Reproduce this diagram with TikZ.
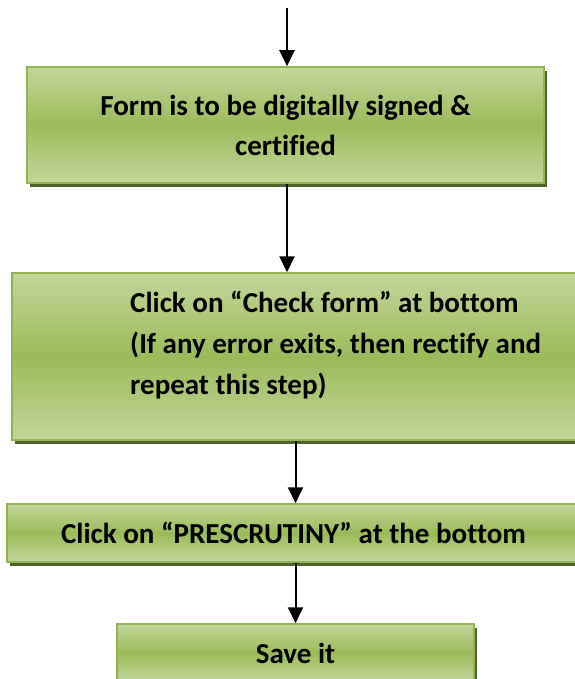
\documentclass[tikz,border=0pt]{standalone}
\usepackage{fontspec}
\setmainfont[Ligatures=CommonOff]{Carlito}
\usetikzlibrary{arrows.meta,shadows}
\definecolor{lightgreen}{HTML}{C3D69B}
\definecolor{midgreen}{HTML}{9BBB59}
\definecolor{edgegreen}{HTML}{93B356}
\definecolor{shadowgreen}{HTML}{4F6228}
\tikzset{
  stepbox/.style={rectangle, draw=edgegreen, line width=1.5pt,
    top color=lightgreen, bottom color=lightgreen, middle color=midgreen,
    drop shadow={shadow xshift=3pt, shadow yshift=-4pt, fill=shadowgreen, opacity=1},
    font=\fontsize{29}{40}\selectfont\bfseries, align=center, inner sep=0pt},
  steptext/.style={font=\fontsize{29}{41}\selectfont\bfseries, align=left, inner sep=0pt},
  flow/.style={-{Triangle[length=16pt,width=15pt]}, line width=2pt}
}

\begin{document}
\begin{tikzpicture}[x=1pt,y=-1pt]
\useasboundingbox (0,0) rectangle (574,679);

% steps
\node[stepbox, minimum width=517, minimum height=116] (form) at (285.5,125)
  {Form is to be digitally signed \&\\certified};
\node[stepbox, minimum width=570, minimum height=167] (check) at (297,356.5) {};
\node[steptext, anchor=west] (checktext) at (130,345)
  {Click on “Check form” at bottom\\(If any error exits, then rectify and\\repeat this step)};
\node[stepbox, minimum width=573, minimum height=58] (prescr) at (293.5,533)
  {Click on “PRESCRUTINY” at the bottom};
\node[stepbox, minimum width=357, minimum height=58] (save) at (295.5,653) {Save it};

% arrows
\coordinate (start) at (287,8);
\draw[flow] (start) -- (start |- form.north);
\draw[flow] (form.south -| start) -- (check.north -| start);
\draw[flow] (check.south -| save.north) -- (prescr.north -| save.north);
\draw[flow] (prescr.south -| save.north) -- (save.north);
\end{tikzpicture}
\end{document}
